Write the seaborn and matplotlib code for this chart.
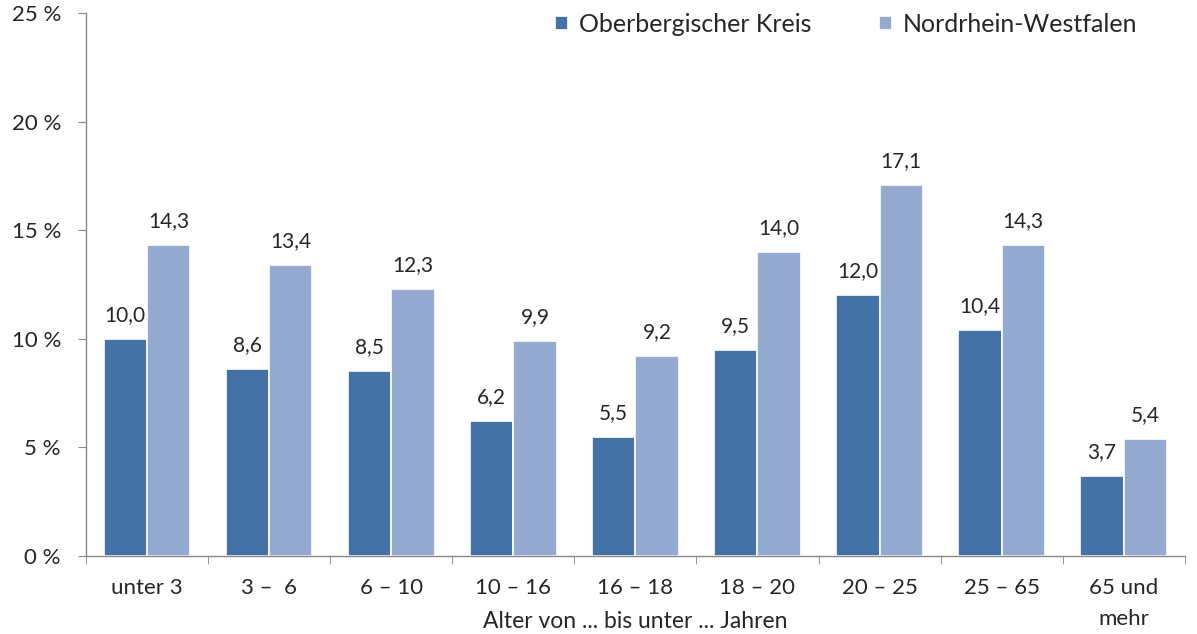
import numpy as np
import pandas as pd
import seaborn as sns
import matplotlib.pyplot as plt
from matplotlib.ticker import FixedLocator, FuncFormatter

categories = ['unter 3', '3 –  6', '6 – 10', '10 – 16', '16 – 18', '18 – 20', '20 – 25', '25 – 65', '65 und\nmehr']
oberberg = [10.0, 8.6, 8.5, 6.2, 5.5, 9.5, 12.0, 10.4, 3.7]
nrw = [14.3, 13.4, 12.3, 9.9, 9.2, 14.0, 17.1, 14.3, 5.4]
series = ['Oberbergischer Kreis', 'Nordrhein-Westfalen']
colors = ['#4472A6', '#94AAD0']

df = pd.DataFrame({
    'Alter': categories * 2,
    'Wert': oberberg + nrw,
    'Region': [series[0]] * len(categories) + [series[1]] * len(categories),
})

sns.set_style('white')
plt.rcParams['font.family'] = ['Lato', 'DejaVu Sans']

fig = plt.figure(figsize=(11.97, 6.34), dpi=100)
ax = fig.add_axes([0.0718, 0.123, 0.918, 0.8565])

sns.barplot(data=df, x='Alter', y='Wert', hue='Region', palette=colors,
            saturation=1, width=0.71, edgecolor='white', linewidth=1.2, ax=ax)

for cont in ax.containers:
    labels = [f'{v:.1f}'.replace('.', ',') for v in cont.datavalues]
    ax.bar_label(cont, labels=labels, padding=10, fontsize=15)

ax.set_ylim(0, 25)
ax.set_xlim(-0.5, len(categories) - 0.5)
ax.set_yticks([0, 5, 10, 15, 20, 25])
ax.yaxis.set_major_formatter(FuncFormatter(lambda v, p: f'{int(v)} %'))
ax.tick_params(axis='y', labelsize=16, length=6, color='#888888', direction='out', left=True, pad=12)
ax.tick_params(axis='x', labelsize=16, length=0, pad=16)
for lbl in ax.get_xticklabels():
    lbl.set_linespacing(1.65)
ax.xaxis.set_minor_locator(FixedLocator(np.arange(-0.5, len(categories), 1)))
ax.tick_params(axis='x', which='minor', length=6, color='#888888', direction='out', bottom=True)

for s in ['top', 'right']:
    ax.spines[s].set_visible(False)
for s in ['left', 'bottom']:
    ax.spines[s].set_color('#888888')
    ax.spines[s].set_linewidth(1)

ax.set_ylabel('')
ax.set_xlabel('Alter von ... bis unter ... Jahren', fontsize=16.5)
ax.xaxis.set_label_coords(0.5, -0.102)
ax.xaxis.label.set_va('top')

ax.legend(loc='upper right', bbox_to_anchor=(0.957, 1.0), ncol=2, frameon=False,
          fontsize=18, handlelength=0.52, handleheight=0.52, handletextpad=0.45,
          columnspacing=2.7, borderpad=0, borderaxespad=0)

plt.savefig('out.png', dpi=100)
